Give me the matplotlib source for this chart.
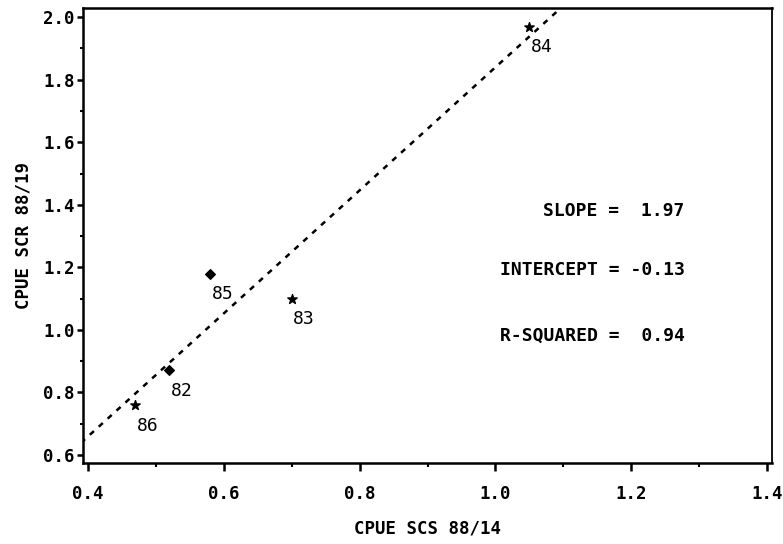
import matplotlib
matplotlib.use("Agg")
from matplotlib import pyplot as plt
from matplotlib.ticker import MultipleLocator
import numpy as np

# CPUE pairs by year
years = ["82", "83", "84", "85", "86"]
cpue_scs = [0.52, 0.70, 1.05, 0.58, 0.47]
cpue_scr = [0.87, 1.10, 1.97, 1.18, 0.76]
markers = ["D", "*", "*", "D", "*"]

slope = 1.97
intercept = -0.13
r_squared = 0.94

plt.rcParams["font.family"] = ["DejaVu Sans Mono"]

fig = plt.figure(figsize=(7.83, 5.44), dpi=100)
ax = fig.add_axes([0.106, 0.149, 0.880, 0.836])

# fitted line
xs = np.array([0.39, 1.2])
ax.plot(xs, intercept + slope * xs, color="black", lw=1.8,
        linestyle=(0, (2.2, 2.6)), zorder=2)

for x, y, m, yr in zip(cpue_scs, cpue_scr, markers, years):
    ax.scatter([x], [y], marker=m, s=50 if m == "*" else 24,
               color="black", zorder=3)
    ax.annotate(yr, (x, y), xytext=(9, -15), textcoords="offset points",
                ha="center", va="center", fontsize=13)

stats = [("SLOPE =  %.2f" % slope, 1.38),
         ("INTERCEPT = %.2f" % intercept, 1.19),
         ("R-SQUARED =  %.2f" % r_squared, 0.98)]
for txt, ypos in stats:
    ax.text(1.278, ypos, txt, ha="right", va="center",
            fontsize=13, fontweight="bold")

ax.set_xlim(0.393, 1.407)
ax.set_ylim(0.574, 2.029)
ax.xaxis.set_major_locator(MultipleLocator(0.2))
ax.xaxis.set_minor_locator(MultipleLocator(0.1))
ax.yaxis.set_major_locator(MultipleLocator(0.2))
ax.yaxis.set_minor_locator(MultipleLocator(0.1))
ax.xaxis.set_major_formatter(plt.FormatStrFormatter("%.1f"))
ax.yaxis.set_major_formatter(plt.FormatStrFormatter("%.1f"))

ax.tick_params(axis="x", which="major", direction="out", length=6, width=1.8,
               pad=10)
ax.tick_params(axis="x", which="minor", direction="out", length=3, width=1.5)
ax.tick_params(axis="y", which="major", direction="out", length=4, width=1.8,
               pad=2)
ax.tick_params(axis="y", which="minor", direction="out", length=2, width=1.5)
for lab in ax.get_xticklabels() + ax.get_yticklabels():
    lab.set_fontsize(12.5)
    lab.set_fontweight("bold")

for side in ["left", "bottom", "top"]:
    ax.spines[side].set_linewidth(1.8)
ax.spines["right"].set_linewidth(1.3)

ax.set_xlabel("CPUE SCS 88/14", fontsize=12.5, fontweight="bold", labelpad=12)
ax.set_ylabel("CPUE SCR 88/19", fontsize=12.5, fontweight="bold", labelpad=8)

fig.savefig("out.png", dpi=100)
